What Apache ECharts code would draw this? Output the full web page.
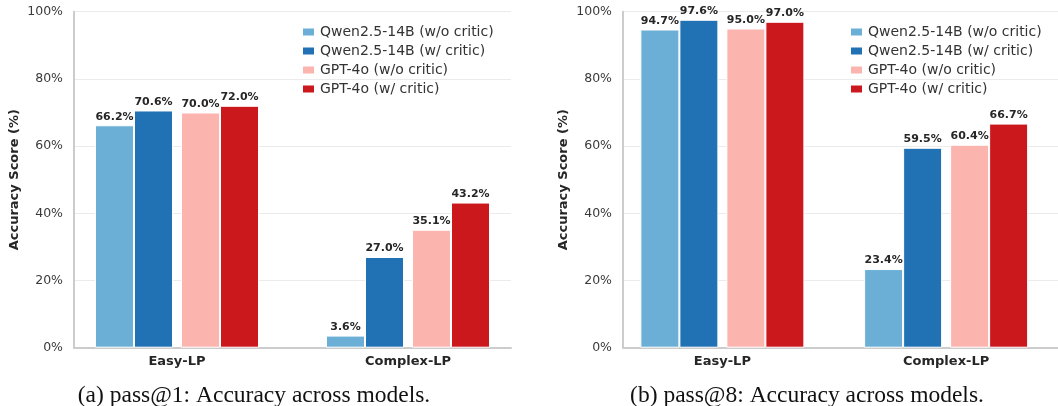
<!DOCTYPE html>
<html>
<head>
<meta charset="utf-8">
<script src="https://cdn.jsdelivr.net/npm/echarts@6/dist/echarts.min.js"></script>
<style>
html,body{margin:0;padding:0;background:#fff;}
#chart{width:1058px;height:406px;}
</style>
</head>
<body>
<div id="chart"></div>
<script>
const categories = ['Easy-LP', 'Complex-LP'];
const seriesNames = ['Qwen2.5-14B (w/o critic)', 'Qwen2.5-14B (w/ critic)', 'GPT-4o (w/o critic)', 'GPT-4o (w/ critic)'];
const colors = ['#6baed6', '#2171b5', '#fbb4ae', '#cb181d'];

// pass@1
const pass1QwenNo = [66.2, 3.6];
const pass1QwenW = [70.6, 27.0];
const pass1GptNo = [70.0, 35.1];
const pass1GptW = [72.0, 43.2];

// pass@8
const pass8QwenNo = [94.7, 23.4];
const pass8QwenW = [97.6, 59.5];
const pass8GptNo = [95.0, 60.4];
const pass8GptW = [97.0, 66.7];

const yMin = 0, yMax = 100, yStep = 20;
const captions = ['(a) pass@1: Accuracy across models.', '(b) pass@8: Accuracy across models.'];
const yName = 'Accuracy Score (%)';

const FONT = '"DejaVu Sans", sans-serif';
const TOP = 11.7, H = 336;

const panels = [
  { bars: [pass1QwenNo, pass1QwenW, pass1GptNo, pass1GptW], barLeft: 61.5, axLeft: 74, axWidth: 437, legendLeft: 301, capX: 254 },
  { bars: [pass8QwenNo, pass8QwenW, pass8GptNo, pass8GptW], barLeft: 610.5, axLeft: 623, axWidth: 435, legendLeft: 849, capX: 807 }
];

const grid = [], xAxis = [], yAxis = [], series = [], legend = [], graphic = [];

panels.forEach((p, pi) => {
  const gBar = grid.length;
  grid.push({ left: p.barLeft, top: TOP, width: 462, height: H });
  const gAx = grid.length;
  grid.push({ left: p.axLeft, top: TOP, width: p.axWidth, height: H });

  xAxis.push({
    type: 'category', gridIndex: gBar, data: categories,
    axisLine: { show: false }, axisTick: { show: false },
    axisLabel: { fontFamily: FONT, fontSize: 13, fontWeight: 'bold', color: '#262626', margin: 7 }
  });
  xAxis.push({
    type: 'value', gridIndex: gAx, min: 0, max: 1,
    axisLine: { show: true, lineStyle: { color: '#cccccc', width: 2 } },
    axisTick: { show: false }, axisLabel: { show: false }, splitLine: { show: false }
  });
  yAxis.push({ type: 'value', gridIndex: gBar, min: yMin, max: yMax, show: false });
  yAxis.push({
    type: 'value', gridIndex: gAx, min: yMin, max: yMax, interval: yStep,
    name: yName, nameLocation: 'middle', nameGap: 53,
    nameTextStyle: { fontFamily: FONT, fontSize: 13, fontWeight: 'bold', color: '#262626' },
    axisLine: { show: true, lineStyle: { color: '#cccccc', width: 2 } },
    axisTick: { show: false },
    axisLabel: { fontFamily: FONT, fontSize: 12.5, color: '#3a3a3a', margin: 11, formatter: '{value}%' },
    splitLine: { show: true, lineStyle: { color: '#ebebeb', width: 1 } }
  });
  const xi = xAxis.length - 2, yi = yAxis.length - 2;
  const mk = (k) => ({
    name: seriesNames[k], type: 'bar', xAxisIndex: xi, yAxisIndex: yi,
    data: p.bars[k], barWidth: 39, barGap: '0%',
    itemStyle: { color: colors[k], borderColor: '#ffffff', borderWidth: 1 },
    label: {
      show: true, position: 'top', distance: 3,
      fontFamily: FONT, fontSize: 11, fontWeight: 'bold', color: '#262626',
      formatter: (d) => d.value.toFixed(1) + '%'
    },
    z: 3
  });
  series.push(mk(0), mk(1));
  series.push({ name: 'spacer' + pi, type: 'bar', xAxisIndex: xi, yAxisIndex: yi, data: [], barWidth: 8, barGap: '0%' });
  series.push(mk(2), mk(3));

  legend.push({
    orient: 'vertical', left: p.legendLeft, top: 24, padding: 0, data: seriesNames,
    icon: 'rect', itemWidth: 13, itemHeight: 9, itemGap: 3,
    textStyle: { fontFamily: FONT, fontSize: 14, color: '#333333', lineHeight: 16 }
  });
  graphic.push({
    type: 'text', x: p.capX, y: 396,
    style: { text: captions[pi], font: '23.5px "Liberation Serif", serif', fill: '#111', textAlign: 'center', textVerticalAlign: 'middle' }
  });
});

const chart = echarts.init(document.getElementById('chart'), null, { renderer: 'canvas' });
chart.setOption({
  animation: false,
  backgroundColor: '#ffffff',
  grid, xAxis, yAxis, series, legend, graphic
});
</script>
</body>
</html>
